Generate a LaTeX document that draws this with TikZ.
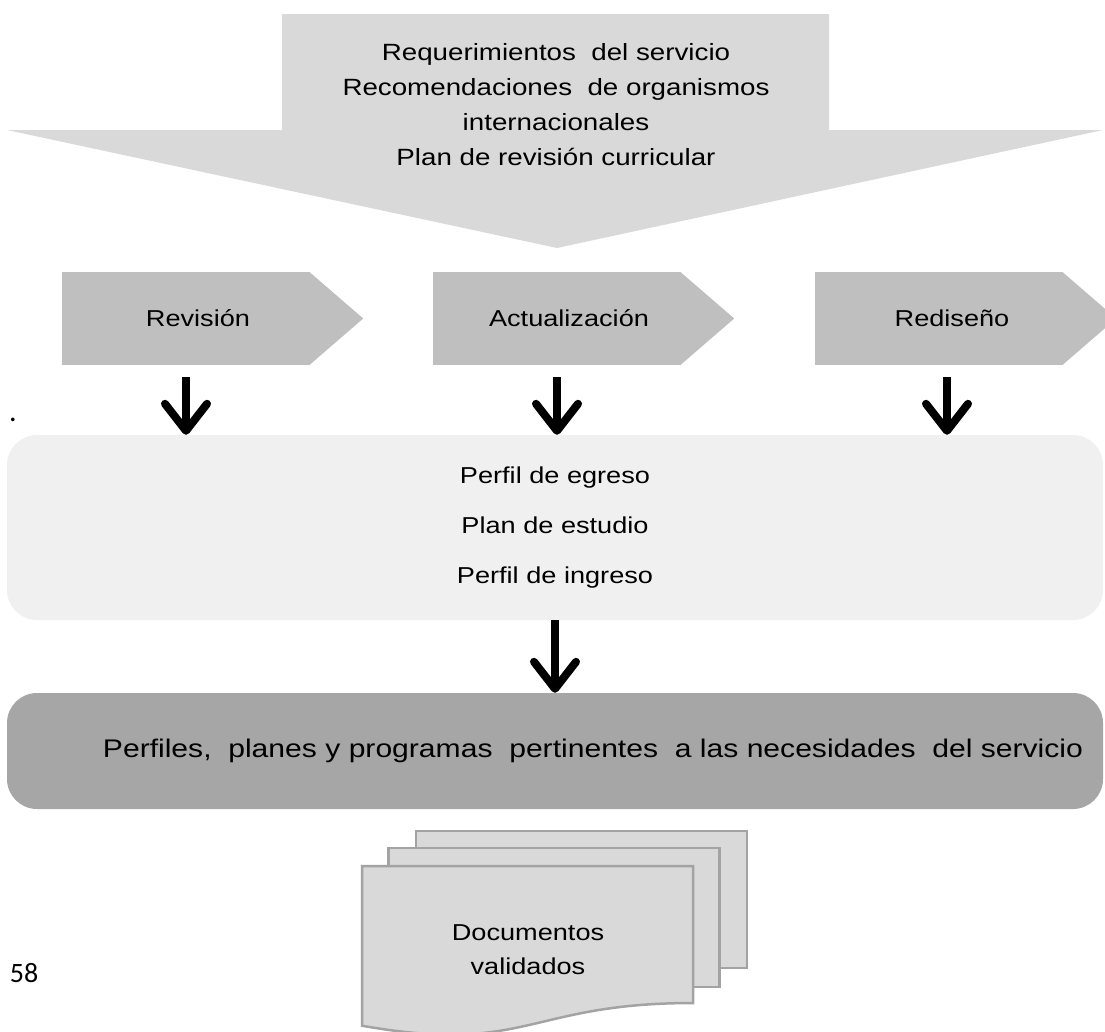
\documentclass[tikz,border=0pt]{standalone}
\usepackage{fontspec}
\setmainfont{Liberation Sans}[FakeStretch=1.18]
\newfontfamily\pagefont{Carlito}
\usetikzlibrary{arrows.meta}
\definecolor{topgray}{HTML}{D9D9D9}
\definecolor{chevgray}{HTML}{BFBFBF}
\definecolor{lightgray}{HTML}{F0F0F0}
\definecolor{darkgray}{HTML}{A6A6A6}
\definecolor{pagegray}{HTML}{D9D9D9}
\definecolor{pageedge}{HTML}{A3A3A3}

\begin{document}
\begin{tikzpicture}[x=1pt, y=-1pt,
    chev/.style={rectangle, fill=chevgray, minimum width=248pt, minimum height=93pt, inner sep=0pt},
    chevtxt/.style={font=\fontsize{23}{28}\selectfont},
    downarr/.style={line width=8pt, -{Straight Barb[length=27pt, width=42pt, round]}},
    panel/.style={rectangle, rounded corners=30pt, minimum width=1096pt, inner sep=0pt, align=center},
    page/.style={rectangle, draw=pageedge, line width=2.5pt, fill=pagegray,
                 minimum width=331pt, minimum height=137pt}
]
\useasboundingbox (0,0) rectangle (1105,1031);

% big input arrow
\fill[topgray] (282,14) -- (829,14) -- (829,130) -- (1103,130) -- (557,248)
    -- (7,130) -- (282,130) -- cycle;
\node[align=center, font=\fontsize{23.5}{35}\selectfont] (req) at (556,105)
    {Requerimientos\ \ del servicio\\Recomendaciones\ \ de organismos\\internacionales\\Plan de revisi\'on curricular};

% three process chevrons
\node[chev] (rev) at (186,318.5) {};
\node[chev] (act) at (557,318.5) {};
\node[chev] (red) at (939,318.5) {};
\foreach \c in {rev, act, red}
  \fill[chevgray] ([xshift=-1pt]\c.north east) -- ([xshift=53pt]\c.east) -- ([xshift=-1pt]\c.south east) -- cycle;
\node[chevtxt] (revt) at ([xshift=12pt]rev.center) {Revisión};
\node[chevtxt] (actt) at ([xshift=12pt]act.center) {Actualización};
\node[chevtxt] (redt) at ([xshift=13pt]red.center) {Rediseño};

\node[font=\pagefont\fontsize{30}{30}\selectfont] (dot) at (13,420) {.};

% result panels
\node[panel, fill=lightgray, minimum height=185pt, font=\fontsize{23}{50}\selectfont] (perf) at (555,527.5)
    {Perfil de egreso\\Plan de estudio\\Perfil de ingreso};
\node[panel, fill=darkgray, minimum height=116pt, font=\fontsize{25.5}{30}\selectfont] (pfl) at (555,751)
    {\hspace*{76pt}Perfiles,\ \ planes y programas\ \ pertinentes\ \ a las necesidades\ \ del servicio};

\draw[downarr] ([yshift=-12pt]rev.south) -- (rev.south |- perf.north);
\draw[downarr] ([yshift=-12pt]act.south) -- (act.south |- perf.north);
\draw[downarr] ([xshift=8pt,yshift=-12pt]red.south) -- ([xshift=8pt]red.south |- perf.north);
\draw[downarr] (perf.south) -- (pfl.north);

% document stack
\node[page] (pg3) at (581.5,899.5) {};
\node[page, minimum height=139pt] (pg2) at (554,917.5) {};
\filldraw[draw=pageedge, line width=2.5pt, fill=pagegray] (362,866) -- (693,866) -- (693,1003)
    .. controls (527.5,1003) and (527.5,1055) .. (362,1025.7) -- cycle;
\node[align=center, font=\fontsize{23}{34}\selectfont] (doc) at (528,950) {Documentos\\validados};

\node[font=\pagefont\fontsize{28}{30}\selectfont] (pgnum) at (24,973) {58};
\end{tikzpicture}
\end{document}
